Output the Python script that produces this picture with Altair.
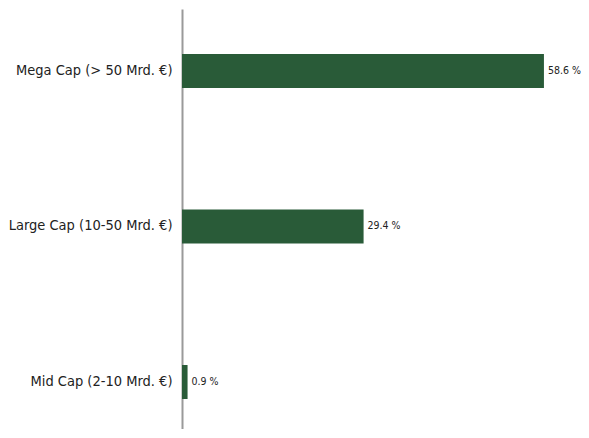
import altair as alt
import pandas as pd

categories = ["Mega Cap (> 50 Mrd. €)", "Large Cap (10-50 Mrd. €)", "Mid Cap (2-10 Mrd. €)"]
values = [58.6, 29.4, 0.9]
labels = ["58.6 %", "29.4 %", "0.9 %"]

df = pd.DataFrame({"cat": categories, "val": values, "lab": labels})

FONT = "DejaVu Sans Condensed, Liberation Sans, sans-serif"

y = alt.Y("cat:N", sort=categories, title=None,
          scale=alt.Scale(paddingInner=0.5, paddingOuter=0.1, align=0.74),
          axis=alt.Axis(labelFont=FONT, labelFontSize=14.5, labelColor="#222222",
                        labelPadding=10, ticks=False, domain=True,
                        domainColor="#9a9a9a", domainWidth=2))
x = alt.X("val:Q", scale=alt.Scale(domain=[0, 64.6], nice=False), axis=None)

bars = alt.Chart(df).mark_bar(size=34, color="#295B38").encode(x=x, y=y)
text = alt.Chart(df).mark_text(align="left", baseline="middle", dx=4,
                               font=FONT, fontSize=10.5, color="#222222").encode(
    x=x, y=alt.Y("cat:N", sort=categories), text="lab:N")

chart = (bars + text).properties(
    width=399, height=420, background="white",
    autosize=alt.AutoSizeParams(type="none"),
    padding={"left": 174, "top": 1, "right": 0, "bottom": 0},
).configure_view(strokeWidth=0)

chart.save("out.html", embed_options={"renderer": "svg", "actions": False})
